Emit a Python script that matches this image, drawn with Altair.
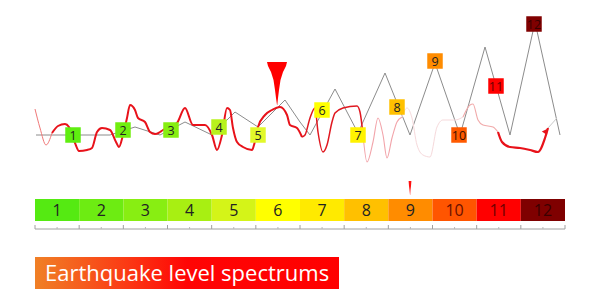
import altair as alt
import pandas as pd

# ---------------- data (pixel-like units) ----------------
gray_x = [36, 67, 110, 135, 160, 185, 212, 235, 258, 285, 300, 310, 335, 358, 385, 410, 435, 460, 485, 510, 535, 560]
gray_y = [135, 135, 135, 127, 135, 122, 135, 112, 127, 100, 122, 135, 89, 133, 73, 135, 63, 135, 47, 135, 22, 135]

red_x = [35, 40, 46, 52, 58, 65, 69, 75, 79, 87, 92, 97, 102, 110, 116, 119, 123, 127, 130, 135,
         138, 145, 150, 155, 160, 163, 170, 177, 185, 193, 205, 212, 217, 222, 227, 230, 233, 237,
         243, 252, 254, 258, 265, 272, 280, 287, 290, 297, 302, 305, 310, 315, 318, 323, 327, 332,
         335, 343, 357, 360, 363, 367, 373, 378, 383, 387, 392, 397, 402, 407, 412, 417, 423, 430,
         437, 443, 455, 463, 470, 473, 478, 483, 493, 498, 502, 510, 520, 530, 538, 545, 548, 557]
red_y = [109, 128, 145, 133, 126, 124, 127, 143, 151, 150, 148, 132, 128, 130, 142, 147, 135, 118, 105, 110,
         118, 122, 132, 134, 132, 130, 127, 123, 108, 125, 125, 135, 150, 135, 108, 110, 128, 142,
         147, 150, 145, 127, 115, 110, 107, 115, 125, 128, 137, 135, 118, 108, 132, 152, 145, 122,
         113, 108, 106, 112, 135, 162, 142, 118, 135, 158, 138, 122, 117, 108, 118, 145, 155, 157,
         127, 120, 120, 117, 105, 104, 120, 125, 127, 132, 142, 147, 148, 150, 152, 138, 128, 118]
# segment breaks along the red trace and their look
seg_start = [35, 52, 302, 363, 402, 463, 498, 548]
seg_end = [52, 302, 363, 402, 463, 498, 548, 557]
seg_color = ["#f07878", "#e8121a", "#e01820", "#f2a4aa", "#f6d9db", "#f1aaaa", "#e8121a", "#c8c8c8"]
seg_width = [1.0, 2.0, 1.5, 1.1, 1.0, 1.1, 2.2, 1.0]

lab_num = [str(i) for i in range(1, 13)]
lab_x = [73, 123, 171, 219, 258, 322, 358, 397, 435, 459, 496, 534]
lab_y = [135, 130, 130, 127, 135, 110, 135, 107, 61, 135, 86, 24]
lab_color = ["#5fee10", "#72ee10", "#86ee10", "#b8f21c", "#e2f82a", "#ffff00",
             "#fff200", "#ffc000", "#ff8c00", "#ff5a00", "#ff0000", "#800000"]
lab_text = ["#222222"] * 9 + ["#3a1000", "#6a0000", "#3a0000"]

levels = list(range(1, 13))
bar_color = ["#55ea12", "#6dec12", "#88ee12", "#a8ef12", "#d4f418", "#ffff00",
             "#ffea00", "#ffc000", "#ff8c00", "#ff5500", "#ff0000", "#7f0000"]
bar_text = ["#222222"] * 9 + ["#6a1000", "#700000", "#3a0000"]

# drop-shaped marker: rows from top to tip, with left/right edges
marker_y = [62, 66, 72, 80, 90, 98, 105]
marker_l = [267, 268, 271, 273.5, 275, 276, 277]
marker_r = [287, 286, 283, 280.5, 279, 278, 277.3]
# small pointer above the colour bar
pointer_y = [181, 186, 190, 195]
pointer_l = [408.6, 409.0, 409.5, 410.0]
pointer_r = [411.4, 411.0, 410.5, 410.2]

title = "Earthquake level spectrums"

# ---------------- scales ----------------
XS = alt.Scale(domain=[0, 600], nice=False, zero=False)
YS = alt.Scale(domain=[0, 300], nice=False, zero=False, reverse=True)


def X(f="x", **kw):
    return alt.X(f"{f}:Q", scale=XS, axis=None, **kw)


def Y(f="y", **kw):
    return alt.Y(f"{f}:Q", scale=YS, axis=None, **kw)


# gray zigzag
gray_df = pd.DataFrame({"x": gray_x, "y": gray_y})
gray = alt.Chart(gray_df).mark_line(color="#8c8c8c", strokeWidth=1).encode(x=X(), y=Y())

# red trace split in segments
rows = []
for i, (a, b) in enumerate(zip(seg_start, seg_end)):
    for xx, yy in zip(red_x, red_y):
        if a <= xx <= b:
            rows.append({"x": xx, "y": yy, "seg": i, "col": seg_color[i], "w": seg_width[i]})
red_df = pd.DataFrame(rows)
red = alt.Chart(red_df).mark_line(interpolate="monotone").encode(
    x=X(), y=Y(), detail="seg:N",
    color=alt.Color("col:N", scale=None),
    strokeWidth=alt.StrokeWidth("w:Q", scale=None),
    order="x:Q",
)

# arrow head at end of red trace
arrow = alt.Chart(pd.DataFrame({"x": [546], "y": [131]})).mark_point(
    shape="triangle-up", filled=True, color="#e8121a", size=40, opacity=1, angle=35
).encode(x=X(), y=Y())

# label squares
lab_df = pd.DataFrame({"x": lab_x, "y": lab_y, "n": lab_num, "c": lab_color, "t": lab_text})
squares = alt.Chart(lab_df).mark_square(size=240, opacity=1).encode(
    x=X(), y=Y(), color=alt.Color("c:N", scale=None)
)
sq_text = alt.Chart(lab_df).mark_text(fontSize=12.5, font="Open Sans", baseline="middle", dy=1).encode(
    x=X(), y=Y(), text="n:N", color=alt.Color("t:N", scale=None)
)

# red drop marker
mk_df = pd.DataFrame({"y": marker_y, "l": marker_l, "r": marker_r})
marker = alt.Chart(mk_df).mark_area(color="#ff0000", orient="horizontal", opacity=1).encode(
    y=Y(), x=X("l", stack=None), x2="r:Q"
)

# colour bar
bar_df = pd.DataFrame({"level": levels, "c": bar_color, "t": bar_text, "lab": [str(v) for v in levels]})
bar_base = alt.Chart(bar_df).transform_calculate(
    x0="35 + (datum.level - 1) * 530 / 12",
    x1="35 + datum.level * 530 / 12",
    xm="35 + (datum.level - 0.5) * 530 / 12",
    y0="199", y1="221", ym="211",
)
bar = bar_base.mark_rect().encode(
    x=X("x0"), x2="x1:Q", y=Y("y0"), y2="y1:Q", color=alt.Color("c:N", scale=None)
)
bar_txt = bar_base.mark_text(fontSize=16, font="Open Sans", baseline="middle").encode(
    x=X("xm"), y=Y("ym"), text="lab:N", color=alt.Color("t:N", scale=None)
)

# axis line with ticks under the bar
axis_line = alt.Chart(pd.DataFrame({"x": [35], "x2": [565], "y": [229]})).mark_rule(
    color="#a0a0a0", strokeWidth=1
).encode(x=X(), x2="x2:Q", y=Y())
tick_df = pd.DataFrame({"level": list(range(0, 13))})
major = alt.Chart(tick_df).transform_calculate(
    x="35 + datum.level * 530 / 12", y="225", y2="229"
).mark_rule(color="#a0a0a0", strokeWidth=1).encode(x=X(), y=Y(), y2="y2:Q")
minor = alt.Chart(pd.DataFrame({"level": levels})).transform_calculate(
    x="35 + (datum.level - 0.5) * 530 / 12", y="227", y2="229"
).mark_rule(color="#b8b8b8", strokeWidth=1).encode(x=X(), y=Y(), y2="y2:Q")

# small pointer above level 9
pt_df = pd.DataFrame({"y": pointer_y, "l": pointer_l, "r": pointer_r})
pointer = alt.Chart(pt_df).mark_area(color="#ff1010", orient="horizontal", opacity=1).encode(
    y=Y(), x=X("l", stack=None), x2="r:Q"
)

# title box
title_box = alt.Chart(pd.DataFrame({"x": [35], "x2": [339], "y": [257], "y2": [289]})).mark_rect(
    color=alt.Gradient(
        gradient="linear",
        stops=[
            alt.GradientStop(color="#f08026", offset=0),
            alt.GradientStop(color="#fb3a14", offset=0.3),
            alt.GradientStop(color="#ff0505", offset=0.5),
            alt.GradientStop(color="#ff0000", offset=1),
        ],
        x1=0, x2=1, y1=0, y2=0,
    )
).encode(x=X(), x2="x2:Q", y=Y(), y2="y2:Q")
title_txt = alt.Chart(pd.DataFrame({"x": [45], "y": [274], "t": [title]})).mark_text(
    fontSize=22, font="Open Sans", color="white", align="left", baseline="middle"
).encode(x=X(), y=Y(), text="t:N")

chart = alt.layer(
    gray, red, arrow, marker, squares, sq_text,
    bar, bar_txt, axis_line, major, minor, pointer,
    title_box, title_txt,
).properties(
    width=600, height=300, padding=0, autosize=alt.AutoSizeParams(type="none")
).configure_view(stroke=None)

chart.save("out.html", embed_options={"renderer": "svg", "actions": False})
